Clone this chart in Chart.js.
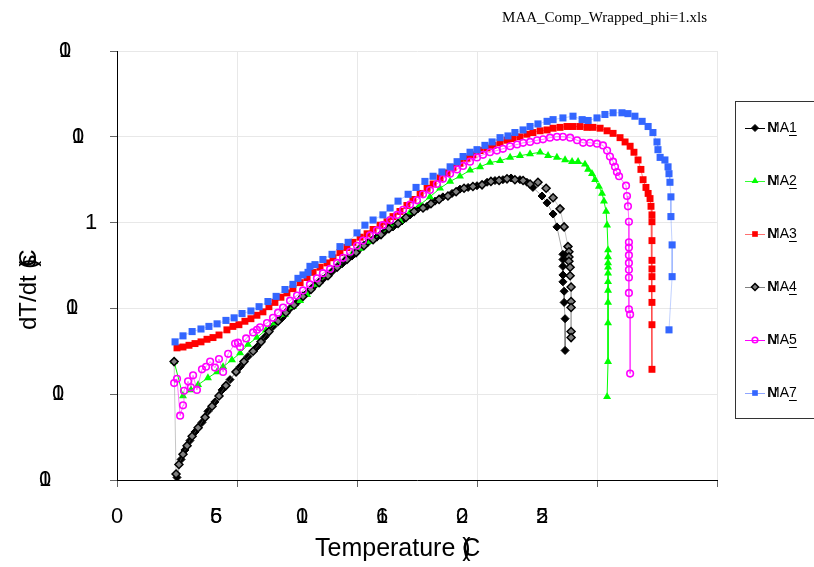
<!DOCTYPE html>
<html>
<head>
<meta charset="utf-8">
<script src="https://cdn.jsdelivr.net/npm/chart.js"></script>
<style>
  html, body { margin: 0; padding: 0; background: #fff; }
  #chart { display: block; }
</style>
</head>
<body>
<canvas id="chart" width="814" height="567"></canvas>
<script>
// Temperature (C) and log10 of dT/dt, one pair of arrays per run
const ma1Temp = [25.0, 26.7, 28.3, 30.4, 32.5, 35.4, 37.9, 40.8, 43.8, 47.1, 51.3, 54.6, 58.3, 61.7, 65.0, 68.8, 72.1, 75.4, 79.2, 82.5,
  85.8, 89.6, 93.8, 97.9, 101.3, 104.6, 108.3, 111.7, 115.0, 118.8, 122.1, 125.4, 129.2, 132.5, 135.8, 139.6, 142.9, 146.3, 150.0,
  154.2, 157.5, 160.8, 164.2, 167.9, 170.8, 173.3, 177.1, 179.2, 181.7, 183.3, 185.8, 185.8, 185.8, 185.8, 185.8, 186.3, 186.3, 186.7, 186.7];
const ma1Rate = [-2.97, -2.76, -2.65, -2.54, -2.44, -2.33, -2.20, -2.09, -1.95, -1.83, -1.68, -1.56, -1.45, -1.33, -1.21, -1.11, -1.00, -0.92, -0.82, -0.73,
  -0.66, -0.57, -0.48, -0.39, -0.30, -0.23, -0.17, -0.10, -0.05, 0.02, 0.09, 0.16, 0.19, 0.25, 0.30, 0.34, 0.39, 0.41, 0.43,
  0.47, 0.49, 0.50, 0.52, 0.50, 0.47, 0.41, 0.31, 0.23, 0.10, -0.05, -0.37, -0.43, -0.51, -0.61, -0.69, -0.80, -0.93, -1.12, -1.49];

const ma2Temp = [23.8, 27.5, 30.8, 33.8, 37.9, 41.7, 44.2, 47.9, 51.3, 54.6, 58.3, 62.1, 65.8, 70.0, 73.3, 76.3, 79.2, 83.3, 87.5, 92.1,
  95.0, 98.3, 101.3, 105.4, 109.6, 113.8, 117.9, 122.1, 126.3, 130.4, 134.6, 138.8, 142.9, 147.1, 151.3, 155.4, 159.6, 163.8, 167.9, 172.1,
  176.3, 179.6, 183.3, 186.7, 189.6, 192.1, 195.0, 196.3, 197.9, 199.2, 200.8, 202.1, 202.9, 203.8, 204.2, 204.6, 204.6, 204.6, 204.6, 204.6,
  204.6, 204.6, 204.6, 204.6, 204.6, 204.2];
const ma2Rate = [-1.62, -2.02, -1.95, -1.89, -1.81, -1.74, -1.68, -1.60, -1.52, -1.42, -1.34, -1.25, -1.17, -1.07, -0.98, -0.91, -0.84, -0.72, -0.61, -0.49,
  -0.42, -0.35, -0.30, -0.22, -0.14, -0.05, 0.02, 0.12, 0.21, 0.30, 0.40, 0.48, 0.54, 0.61, 0.65, 0.70, 0.72, 0.76, 0.78, 0.80,
  0.82, 0.78, 0.76, 0.73, 0.71, 0.71, 0.68, 0.62, 0.57, 0.50, 0.42, 0.34, 0.25, 0.13, -0.03, -0.32, -0.40, -0.47, -0.52, -0.59,
  -0.69, -0.79, -0.93, -1.17, -1.62, -2.03];

const ma3Temp = [25.0, 27.5, 30.0, 32.5, 35.0, 37.5, 40.0, 42.5, 45.8, 48.3, 50.8, 53.3, 55.8, 58.3, 60.8, 63.3, 65.8, 68.3, 70.8, 73.3,
  76.3, 79.2, 81.7, 84.6, 87.5, 90.0, 92.9, 95.8, 98.3, 101.3, 104.2, 106.7, 109.6, 112.5, 115.0, 117.9, 120.8, 123.3, 126.3, 129.2,
  131.7, 134.6, 137.5, 140.0, 142.9, 145.8, 148.3, 151.3, 154.2, 156.7, 159.6, 162.5, 165.0, 167.9, 170.8, 173.3, 176.3, 179.2, 181.7, 184.6,
  187.5, 190.0, 192.9, 195.8, 198.3, 201.3, 204.2, 206.7, 209.6, 211.7, 213.8, 215.4, 217.1, 218.3, 219.2, 220.4, 221.3, 222.1, 222.5, 222.9,
  222.9, 222.9, 222.9, 222.9, 222.9, 222.9, 222.9, 222.9, 222.9];
const ma3Rate = [-1.46, -1.45, -1.43, -1.41, -1.39, -1.36, -1.34, -1.31, -1.25, -1.21, -1.19, -1.15, -1.12, -1.08, -1.04, -0.98, -0.93, -0.87, -0.82, -0.77,
  -0.70, -0.64, -0.58, -0.52, -0.47, -0.41, -0.35, -0.29, -0.23, -0.17, -0.13, -0.08, -0.03, 0.01, 0.07, 0.13, 0.20, 0.27, 0.34, 0.40,
  0.45, 0.52, 0.58, 0.64, 0.69, 0.75, 0.79, 0.84, 0.87, 0.90, 0.93, 0.96, 0.98, 1.00, 1.03, 1.05, 1.07, 1.08, 1.10, 1.11,
  1.12, 1.12, 1.12, 1.11, 1.11, 1.10, 1.07, 1.04, 0.99, 0.94, 0.89, 0.82, 0.73, 0.62, 0.50, 0.41, 0.34, 0.28, 0.19, 0.09,
  0.01, -0.21, -0.44, -0.54, -0.63, -0.77, -0.93, -1.19, -1.71];

const ma4Temp = [23.8, 24.6, 25.8, 27.5, 29.2, 31.3, 33.8, 36.7, 39.6, 42.5, 45.4, 49.6, 52.9, 56.7, 60.0, 63.3, 67.1, 70.4, 73.8, 77.5,
  80.8, 84.2, 87.9, 91.7, 95.8, 99.6, 102.9, 106.7, 110.0, 113.3, 117.1, 120.4, 123.8, 127.5, 130.8, 134.2, 137.9, 141.3, 144.6, 148.3,
  152.1, 155.8, 159.2, 162.5, 165.8, 169.2, 172.1, 175.4, 178.8, 181.7, 184.6, 186.3, 187.9, 188.3, 188.3, 188.3, 188.8, 188.8, 189.2, 189.2,
  189.2, 189.2, 189.2];
const ma4Rate = [-1.62, -2.93, -2.82, -2.70, -2.60, -2.49, -2.39, -2.27, -2.14, -2.02, -1.90, -1.74, -1.62, -1.50, -1.39, -1.27, -1.15, -1.05, -0.96, -0.86,
  -0.78, -0.70, -0.62, -0.52, -0.43, -0.35, -0.27, -0.20, -0.14, -0.07, -0.01, 0.06, 0.13, 0.17, 0.22, 0.27, 0.31, 0.36, 0.40, 0.42,
  0.44, 0.48, 0.49, 0.51, 0.50, 0.49, 0.45, 0.47, 0.40, 0.29, 0.16, -0.05, -0.28, -0.34, -0.40, -0.45, -0.52, -0.62, -0.75, -0.92,
  -0.99, -1.27, -1.34];

const ma5Temp = [23.8, 25.0, 26.3, 27.5, 27.9, 29.6, 30.8, 31.7, 33.3, 35.4, 37.1, 38.8, 40.8, 42.5, 44.2, 46.3, 49.2, 50.4, 51.3, 53.8,
  56.7, 58.3, 59.6, 62.5, 65.0, 67.1, 69.2, 72.1, 75.0, 77.5, 80.4, 83.3, 85.8, 88.8, 91.7, 94.2, 97.1, 100.0, 102.5, 105.4,
  108.3, 110.8, 113.8, 116.7, 119.2, 122.1, 125.0, 127.5, 130.4, 133.3, 135.8, 138.8, 141.7, 144.2, 147.1, 150.0, 152.5, 155.4, 158.3, 160.8,
  163.8, 166.7, 169.2, 172.1, 175.0, 177.5, 180.4, 183.3, 185.8, 188.8, 191.7, 194.2, 197.1, 200.0, 202.5, 204.2, 205.4, 206.7, 207.5, 208.3,
  209.2, 212.1, 212.5, 212.9, 213.3, 213.3, 213.3, 213.3, 213.3, 213.3, 213.3, 213.3, 213.3, 213.8, 213.8];
const ma5Rate = [-1.87, -1.82, -2.25, -2.13, -1.96, -1.85, -1.92, -1.78, -1.95, -1.71, -1.68, -1.62, -1.69, -1.59, -1.74, -1.53, -1.41, -1.40, -1.45, -1.35,
  -1.28, -1.25, -1.22, -1.17, -1.11, -1.05, -0.99, -0.91, -0.85, -0.79, -0.72, -0.65, -0.59, -0.54, -0.47, -0.41, -0.34, -0.27, -0.21, -0.15,
  -0.09, -0.03, 0.03, 0.09, 0.15, 0.21, 0.26, 0.33, 0.38, 0.45, 0.51, 0.57, 0.62, 0.66, 0.71, 0.76, 0.79, 0.82, 0.84, 0.86,
  0.89, 0.91, 0.93, 0.94, 0.96, 0.97, 0.99, 1.00, 1.00, 0.99, 0.96, 0.93, 0.93, 0.92, 0.90, 0.84, 0.77, 0.71, 0.65, 0.59,
  0.54, 0.43, 0.31, 0.19, 0.01, -0.23, -0.29, -0.38, -0.47, -0.55, -0.64, -0.82, -1.01, -1.07, -1.76];

const ma7Temp = [24.2, 27.5, 31.3, 35.0, 38.3, 41.7, 45.4, 48.8, 52.1, 55.8, 59.2, 62.9, 66.3, 70.0, 73.3, 75.4, 77.5, 79.6, 80.4, 82.5,
  85.8, 89.6, 92.9, 96.3, 100.0, 103.3, 106.7, 110.8, 113.8, 117.1, 121.3, 124.6, 128.3, 131.7, 135.4, 138.8, 141.7, 144.2, 147.1, 150.0,
  153.3, 156.3, 159.6, 162.9, 165.8, 169.2, 172.1, 175.4, 179.2, 181.7, 185.8, 190.0, 193.8, 196.3, 200.0, 203.3, 206.7, 210.4, 212.9, 215.8,
  218.8, 221.3, 223.3, 225.0, 225.4, 226.3, 228.3, 229.6, 230.0, 230.4, 230.8, 230.8, 231.3, 231.3, 230.0];
const ma7Rate = [-1.39, -1.32, -1.27, -1.24, -1.21, -1.18, -1.14, -1.11, -1.06, -1.03, -0.98, -0.92, -0.86, -0.78, -0.72, -0.65, -0.61, -0.58, -0.51, -0.49,
  -0.43, -0.37, -0.28, -0.23, -0.12, -0.03, 0.03, 0.09, 0.17, 0.25, 0.33, 0.41, 0.48, 0.54, 0.59, 0.65, 0.71, 0.77, 0.82, 0.85,
  0.90, 0.94, 0.99, 1.01, 1.05, 1.08, 1.12, 1.15, 1.18, 1.20, 1.22, 1.24, 1.20, 1.19, 1.22, 1.26, 1.28, 1.28, 1.27, 1.24,
  1.18, 1.12, 1.05, 0.94, 0.85, 0.76, 0.73, 0.65, 0.57, 0.47, 0.30, 0.07, -0.26, -0.63, -1.25];

const seriesNames = ['MA1', 'MA2', 'MA3', 'MA4', 'MA5', 'MA7'];

// axis ticks; the source file rendered its labels as overlapping glyphs
const temperatureTicks = [0, 50, 100, 150, 200, 250];
const temperatureTickGlyphs = [['0'], ['5', '6'], ['1', '0'], ['1', '6'], ['2', '0'], ['2', '5']];
const rateTicks = [-3, -2, -1, 0, 1, 2];
const rateTickGlyphs = [['0', '1'], ['0', '1'], ['0', '1'], ['1'], ['0', '1'], ['0', '1']];
const xTitleText = 'Temperature ';
const xTitleGlyphs = ['(', 'C', ')'];
const yTitleText = 'dT/dt (';
const yTitleGlyphs = ['C', 's', ')'];
const fileName = 'MAA_Comp_Wrapped_phi=1.xls';

function pairs(xs, ys) {
  return xs.map((x, i) => ({ x: x, y: ys[i] }));
}

const styles = [
  { point: 'rectRot', r: 4, fill: '#000000', edge: '#000000', edgeW: 1, line: 'rgba(0,0,0,0.35)', key: '#000000' },
  { point: 'triangle', r: 4.6, fill: '#00ff00', edge: '#00ff00', edgeW: 0, line: '#00ff00', key: '#33ff33' },
  { point: 'rect', r: 4.9, fill: '#ff0000', edge: '#ff0000', edgeW: 0, line: 'rgba(255,0,0,0.5)', key: '#ff7070' },
  { point: 'rectRot', r: 4, fill: '#808080', edge: '#000000', edgeW: 1.5, line: 'rgba(128,128,128,0.45)', key: '#808080' },
  { point: 'circle', r: 3.3, fill: 'rgba(255,255,255,0)', edge: '#ff00ff', edgeW: 1.6, line: 'rgba(255,0,255,0.55)', key: '#ff00ff' },
  { point: 'rect', r: 5, fill: '#3366ff', edge: '#3366ff', edgeW: 0, line: 'rgba(51,102,255,0.3)', key: '#8fa6ff' }
];

const seriesData = [
  pairs(ma1Temp, ma1Rate), pairs(ma2Temp, ma2Rate), pairs(ma3Temp, ma3Rate),
  pairs(ma4Temp, ma4Rate), pairs(ma5Temp, ma5Rate), pairs(ma7Temp, ma7Rate)
];

const datasets = seriesNames.map((name, i) => ({
  label: name,
  data: seriesData[i],
  showLine: true,
  borderColor: styles[i].line,
  borderWidth: 1,
  pointStyle: styles[i].point,
  pointRadius: styles[i].r,
  pointBackgroundColor: styles[i].fill,
  pointBorderColor: styles[i].edge,
  pointBorderWidth: styles[i].edgeW,
  order: seriesNames.length - i   // later runs drawn on top, as in the original
}));

function drawMarker(ctx, style, x, y, r) {
  ctx.beginPath();
  if (style === 'rect') {
    const s = r * Math.SQRT1_2;
    ctx.rect(x - s, y - s, 2 * s, 2 * s);
  } else if (style === 'rectRot') {
    ctx.moveTo(x, y - r); ctx.lineTo(x + r, y); ctx.lineTo(x, y + r); ctx.lineTo(x - r, y);
    ctx.closePath();
  } else if (style === 'triangle') {
    ctx.moveTo(x, y - r);
    ctx.lineTo(x + r * 0.866, y + r * 0.5);
    ctx.lineTo(x - r * 0.866, y + r * 0.5);
    ctx.closePath();
  } else {
    ctx.arc(x, y, r, 0, Math.PI * 2);
  }
}

// text and legend are drawn by hand so the stacked glyphs and boxed key match the original
const decorPlugin = {
  id: 'decor',
  afterDraw(chart) {
    const ctx = chart.ctx;
    const area = chart.chartArea;
    const ys = chart.scales.y;
    ctx.save();
    ctx.fillStyle = '#000';

    // tick labels
    ctx.font = '22px "Liberation Sans", Arial, sans-serif';
    ctx.textAlign = 'center';
    ctx.textBaseline = 'middle';
    const yInset = [72, 59, 45, 26, 39, 52];
    rateTicks.forEach((v, i) => {
      const y = ys.getPixelForValue(v);
      rateTickGlyphs[i].forEach(g => ctx.fillText(g, area.left - yInset[i], y));
    });
    const xShift = [0, 99, 185, 265, 345, 425];
    temperatureTicks.forEach((v, i) => {
      temperatureTickGlyphs[i].forEach(g => ctx.fillText(g, area.left + xShift[i], area.bottom + 37));
    });

    // axis titles
    ctx.font = '25px "Liberation Sans", Arial, sans-serif';
    ctx.textAlign = 'left';
    const tx = 315;
    ctx.fillText(xTitleText, tx, area.bottom + 69);
    const tw = ctx.measureText(xTitleText).width;
    xTitleGlyphs.forEach(g => ctx.fillText(g, tx + tw, area.bottom + 69));

    ctx.save();
    ctx.translate(29, 330);
    ctx.rotate(-Math.PI / 2);
    ctx.font = '24px "Liberation Sans", Arial, sans-serif';
    ctx.fillText(yTitleText, 0, 0);
    const yw = ctx.measureText(yTitleText).width;
    yTitleGlyphs.forEach(g => ctx.fillText(g, yw - 6, 0));
    ctx.restore();

    // file name
    ctx.font = '15px "Liberation Serif", "Times New Roman", serif';
    ctx.textAlign = 'right';
    ctx.fillText(fileName, area.right - 10, 18);

    // legend box
    ctx.strokeStyle = '#333';
    ctx.lineWidth = 1;
    ctx.strokeRect(735.5, 101.5, 100, 317);
    ctx.font = '14px "Liberation Sans", Arial, sans-serif';
    ctx.textAlign = 'left';
    chart.data.datasets.forEach((ds, i) => {
      const st = styles[i];
      const cy = 128 + i * 53;
      ctx.strokeStyle = st.key;
      ctx.lineWidth = 1;
      ctx.beginPath();
      ctx.moveTo(745, cy + 0.5);
      ctx.lineTo(765, cy + 0.5);
      ctx.stroke();
      drawMarker(ctx, st.point, 755, cy, Math.min(st.r, 4.5) - 0.5);
      ctx.fillStyle = st.fill;
      ctx.fill();
      if (st.edgeW > 0) {
        ctx.strokeStyle = st.edge;
        ctx.lineWidth = st.edgeW;
        ctx.stroke();
      }
      ctx.fillStyle = '#000';
      ctx.fillText('N', 767, cy);
      ctx.fillText(ds.label, 768, cy);
      const head = ctx.measureText(ds.label.slice(0, 2)).width;
      const tail = ctx.measureText(ds.label.slice(2)).width;
      ctx.fillRect(768 + head, cy + 7, tail, 1);
    });
    ctx.restore();
  }
};

new Chart(document.getElementById('chart'), {
  type: 'scatter',
  data: { datasets: datasets },
  options: {
    responsive: false,
    animation: false,
    devicePixelRatio: 1,
    layout: { padding: { left: 110, right: 97, top: 51, bottom: 80 } },
    plugins: {
      legend: { display: false },
      tooltip: { enabled: false }
    },
    elements: { line: { tension: 0 } },
    scales: {
      x: {
        type: 'linear',
        min: temperatureTicks[0],
        max: temperatureTicks[temperatureTicks.length - 1],
        ticks: { display: false, stepSize: 50 },
        grid: { color: '#e8e8e8', tickColor: '#666', tickLength: 7 },
        border: { color: '#000' }
      },
      y: {
        type: 'linear',
        min: rateTicks[0],
        max: rateTicks[rateTicks.length - 1],
        ticks: { display: false, stepSize: 1 },
        grid: { color: '#e8e8e8', tickColor: '#666', tickLength: 7 },
        border: { color: '#000' }
      }
    }
  },
  plugins: [decorPlugin]
});
</script>
</body>
</html>
